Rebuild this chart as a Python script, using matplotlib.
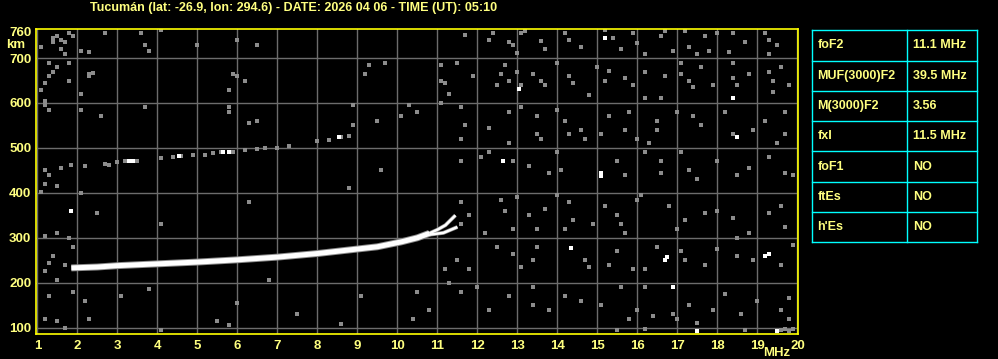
import matplotlib.pyplot as plt

# ionogram header and axes
title = "Tucumán (lat: -26.9, lon: 294.6) - DATE: 2026 04 06 - TIME (UT): 05:10"
freq_ticks = list(range(1, 21))
height_ticks = [100, 200, 300, 400, 500, 600, 700, 760]
grid_heights = [100, 200, 300, 400, 500, 600, 700]

# main F2 trace (MHz, km)
trace_f = [1.85, 2.5, 3.0, 4.0, 5.0, 6.0, 7.0, 8.0, 8.8, 9.5, 10.1, 10.5, 10.8]
trace_h = [233, 235, 238, 242, 246, 251, 257, 265, 273, 280, 291, 300, 310]
# cusp branches near foF2 / fxI
upper_f = [10.8, 11.0, 11.2, 11.45]
upper_h = [310, 318, 328, 350]
lower_f = [10.8, 11.15, 11.5]
lower_h = [307, 311, 324]

# second hop echo (MHz, km)
hop2_f = [1.85, 2.2, 2.7, 2.8, 3.0, 3.2, 3.35, 3.5, 4.1, 4.4, 4.6, 4.9, 5.2, 5.4, 5.6,
          5.9, 6.2, 6.5, 6.7, 7.0, 7.3, 8.0, 8.3, 8.6, 8.8]
hop2_h = [462, 460, 465, 462, 468, 471, 471, 470, 478, 480, 482, 484, 485, 488, 490,
          492, 495, 497, 500, 500, 505, 515, 517, 525, 527]
hop2_white_f = [3.3, 3.4, 4.55, 5.65, 5.8, 8.55]
hop2_white_h = [471, 472, 482, 490, 491, 524]

# scattered noise echoes (MHz, km)
noise_f = [
    11.7, 12.4, 12.3, 12.8, 12.9, 13.1, 13.2, 13.6, 13.7, 14.2, 14.3, 14.6, 15.2, 15.4,
    15.6, 15.9, 16.0, 16.2, 16.7, 17.2, 17.7, 17.8, 17.3, 17.5, 18.0, 18.4, 18.3, 18.7,
    19.2, 19.3, 19.5, 19.3, 13.0, 16.6, 16.9,
    11.5, 11.9, 12.7, 12.6, 12.5, 12.8, 13.0, 13.1, 13.4, 13.6, 13.7, 14.0, 14.3, 14.4,
    14.8, 15.0, 15.3, 15.2, 15.7, 15.9, 16.2, 16.7, 16.2, 16.6, 17.1, 17.1, 17.3, 17.4,
    17.6, 17.9, 18.4, 18.4, 18.5, 18.8, 19.3, 19.4, 19.6, 19.4, 19.8,
    11.6, 11.7, 11.6, 12.8, 12.3, 12.8, 13.1, 13.5, 13.5, 13.6, 14.0, 14.2, 14.3, 14.6,
    14.7, 15.1, 15.3, 15.8, 15.7, 16.0, 16.3, 16.5, 16.5, 17.0, 17.4, 17.6, 18.2, 18.4,
    18.9, 19.2, 19.7, 19.7, 19.5,
    11.6, 12.1, 12.3, 12.9, 13.3, 13.8, 14.0, 14.1, 15.5, 15.7, 16.2, 16.6, 16.6, 17.1,
    17.3, 17.5, 18.0, 18.5, 18.8, 19.3, 19.7, 19.9,
    11.6, 11.8, 11.6, 12.2, 12.6, 12.7, 13.0, 13.3, 13.5, 13.7, 14.0, 14.3, 14.4, 14.2,
    14.9, 15.2, 15.5, 15.6, 15.7, 16.0, 16.1, 16.8, 17.0, 17.2, 17.7, 18.0, 18.4, 18.5,
    18.8, 19.3, 19.6, 19.7, 12.9,
    11.5, 11.8, 12.5, 12.9, 13.1, 13.4, 13.5, 14.7, 14.8, 15.3, 15.5, 15.9, 16.2, 16.5,
    17.1, 17.2, 17.7, 18.0, 18.5, 18.9, 19.6, 19.9,
    11.6, 12.0, 12.3, 12.8, 13.4, 13.4, 13.8, 14.2, 14.6, 15.1, 15.6, 15.8, 16.0, 16.4,
    16.2, 16.9, 17.0, 17.3, 17.5, 17.9, 18.2, 18.6, 19.0, 19.6, 19.8, 19.8,
    19.6, 19.7, 19.8, 19.9, 15.5, 16.2, 18.7,
    1.4, 1.5, 1.6, 1.7, 1.8, 1.6, 1.7, 1.1, 1.4, 1.9, 2.1, 2.3, 2.7, 3.6, 3.7, 3.8, 4.1,
    5.0, 6.0, 6.5, 9.2, 9.3, 9.7, 1.3, 1.4, 1.3, 1.5, 1.2, 1.1, 1.8, 1.8, 2.3, 2.4, 2.3,
    2.1, 5.9, 6.0, 6.2, 11.1, 11.1, 11.3, 11.2, 5.8, 1.2,
    1.2, 1.3, 2.1, 2.6, 3.7, 5.8, 5.8, 6.3, 6.5, 8.9, 8.9, 9.5, 10.1, 10.3, 10.5, 11.1,
    1.2, 1.3, 1.6, 1.2, 1.5, 1.1, 2.1, 1.5, 1.2, 1.8, 1.9, 1.4, 1.3, 1.7, 1.2, 1.5, 1.2,
    1.5, 1.3, 1.9, 2.2, 1.7, 2.3, 4.1, 5.5, 5.8, 8.6, 6.0, 3.1, 2.5, 6.8, 4.1, 6.3, 9.6,
    8.8, 9.1, 10.4, 10.5, 11.2, 11.3, 10.8, 7.5, 3.8,
]
noise_h = [
    752, 755, 740, 735, 730, 755, 760, 738, 720, 756, 740, 725, 762, 745,
    720, 755, 733, 708, 760, 760, 750, 716, 725, 710, 755, 755, 713, 735,
    755, 740, 730, 710, 712, 748, 715,
    690, 660, 685, 665, 640, 650, 670, 640, 665, 650, 640, 690, 660, 645,
    618, 680, 672, 650, 655, 640, 670, 660, 610, 612, 688, 665, 650, 635,
    680, 640, 690, 655, 640, 665, 670, 650, 680, 625, 640,
    590, 550, 520, 580, 545, 512, 590, 570, 530, 520, 585, 560, 530, 540,
    520, 530, 570, 580, 540, 520, 510, 560, 540, 580, 570, 550, 580, 530,
    540, 560, 580, 530, 510,
    470, 480, 490, 470, 460, 445, 490, 450, 470, 440, 490, 470, 445, 490,
    450, 430, 470, 440, 455, 480, 445, 440,
    380, 350, 330, 310, 385, 360, 390, 350, 320, 365, 395, 380, 340, 320,
    330, 370, 350, 330, 310, 385, 395, 370, 320, 340, 355, 360, 345, 300,
    310, 355, 370, 325, 320,
    250, 230, 280, 265, 235, 250, 280, 250, 235, 240, 270, 230, 230, 280,
    270, 250, 240, 275, 260, 250, 240, 285,
    180, 190, 140, 170, 190, 150, 140, 170, 160, 150, 190, 120, 140, 125,
    190, 130, 120, 150, 110, 140, 175, 130, 160, 140, 120, 165,
    95, 98, 93, 96, 95, 97, 95,
    745, 750, 740, 735, 755, 720, 710, 725, 735, 750, 715, 714, 755, 755, 730, 715, 762,
    730, 740, 730, 665, 685, 690, 690, 670, 660, 680, 645, 630, 650, 690, 665, 667, 660,
    620, 665, 660, 648, 685, 650, 620, 645, 630, 605,
    595, 585, 585, 570, 590, 590, 580, 555, 560, 595, 550, 560, 570, 595, 580, 600,
    450, 440, 455, 420, 415, 402, 400, 310, 305, 300, 280, 260, 245, 240, 225, 205, 120,
    115, 170, 180, 160, 100, 120, 95, 115, 105, 108, 155, 170, 355, 205, 330, 380, 450,
    410, 170, 120, 180, 230, 200, 140, 130, 185,
]
bright_f = [15.2, 13.04, 18.38, 18.5, 12.63, 15.1, 15.1, 14.33, 16.73, 16.7, 19.2, 19.3,
            16.88, 17.5, 19.5, 1.84]
bright_h = [744, 631, 612, 524, 472, 445, 438, 277, 258, 250, 260, 265, 190, 92, 92, 360]

fig = plt.figure(figsize=(9.98, 3.59), dpi=100, facecolor="black")
ax = fig.add_axes([0.0356, 0.071, 0.7645, 0.8474], facecolor="black")

label_color = "#ffff80"
font = {"family": ["Liberation Sans", "DejaVu Sans"], "weight": "bold"}

for f in freq_ticks:
    ax.axvline(f, color="#6c6c6c", lw=1.0, zorder=1)
for h in grid_heights:
    ax.axhline(h, color="#6c6c6c", lw=1.0, zorder=1)

ax.scatter(noise_f, noise_h, s=5.5, marker="s", color="#8c8c8c", linewidths=0, zorder=2)
ax.scatter(bright_f, bright_h, s=5.5, marker="s", color="white", linewidths=0, zorder=3)

# second hop
ax.plot(hop2_f, hop2_h, ls="none", marker="s", ms=2.4, mew=0, color="#8c8c8c", zorder=3)
ax.plot(hop2_white_f, hop2_white_h, ls="none", marker="s", ms=2.6, mew=0, color="white", zorder=4)

# main trace with grey fringe
ax.plot(trace_f, trace_h, color="#8c8c8c", lw=5.0, solid_capstyle="butt", zorder=4)
ax.plot(trace_f, trace_h, color="white", lw=3.6, solid_capstyle="butt", zorder=5)
for bf, bh in [(upper_f, upper_h), (lower_f, lower_h)]:
    ax.plot(bf, bh, color="#8c8c8c", lw=2.8, solid_capstyle="butt", zorder=4)
    ax.plot(bf, bh, color="white", lw=1.8, solid_capstyle="butt", zorder=5)

ax.set_xlim(0.955, 20.025)
ax.set_ylim(87, 764)
ax.set_xticks(freq_ticks)
ax.set_yticks(height_ticks)
ax.tick_params(length=0, colors=label_color, labelsize=9.5)
ax.tick_params(axis="x", pad=5)
ax.tick_params(axis="y", pad=3)
for lab in ax.get_xticklabels() + ax.get_yticklabels():
    lab.set_fontfamily(font["family"])
    lab.set_fontweight("bold")
for sp in ax.spines.values():
    sp.set_color("#ffff00")
    sp.set_linewidth(1.2)
    sp.set_zorder(6)

fig.text(0.006, 1 - 45.5 / 359, "km", color=label_color, fontsize=9.5, ha="left",
         va="center", **font)
fig.text(777 / 998, 1 - 353 / 359, "MHz", color=label_color, fontsize=9.5, ha="center",
         va="center", **font)
fig.text(294 / 998, 1 - 7.5 / 359, title, color=label_color, fontsize=9, ha="center",
         va="center", **font)

# parameter table
params = ["foF2", "MUF(3000)F2", "M(3000)F2", "fxI", "foF1", "ftEs", "h'Es"]
values = ["11.1 MHz", "39.5 MHz", "3.56", "11.5 MHz", "NO", "NO", "NO"]

tx0, tx1, tdiv = 812.3, 977.3, 907.3
ty0, ty1 = 30.3, 242.3
tax = fig.add_axes([0, 0, 1, 1], facecolor="none")
tax.set_xlim(0, 998)
tax.set_ylim(359, 0)
tax.set_axis_off()
row_h = (ty1 - ty0) / len(params)
for i in range(len(params) + 1):
    y = ty0 + i * row_h
    tax.plot([tx0, tx1], [y, y], color="#00ffff", lw=1.0)
for x in [tx0, tdiv, tx1]:
    tax.plot([x, x], [ty0, ty1], color="#00ffff", lw=1.0)
for i, (p, v) in enumerate(zip(params, values)):
    yc = ty0 + (i + 0.5) * row_h
    tax.text(tx0 + 5, yc, p, color=label_color, fontsize=9, va="center", ha="left", **font)
    tax.text(tdiv + 5.5, yc, v, color=label_color, fontsize=9, va="center", ha="left", **font)

fig.savefig("out.png", dpi=100, facecolor="black")
